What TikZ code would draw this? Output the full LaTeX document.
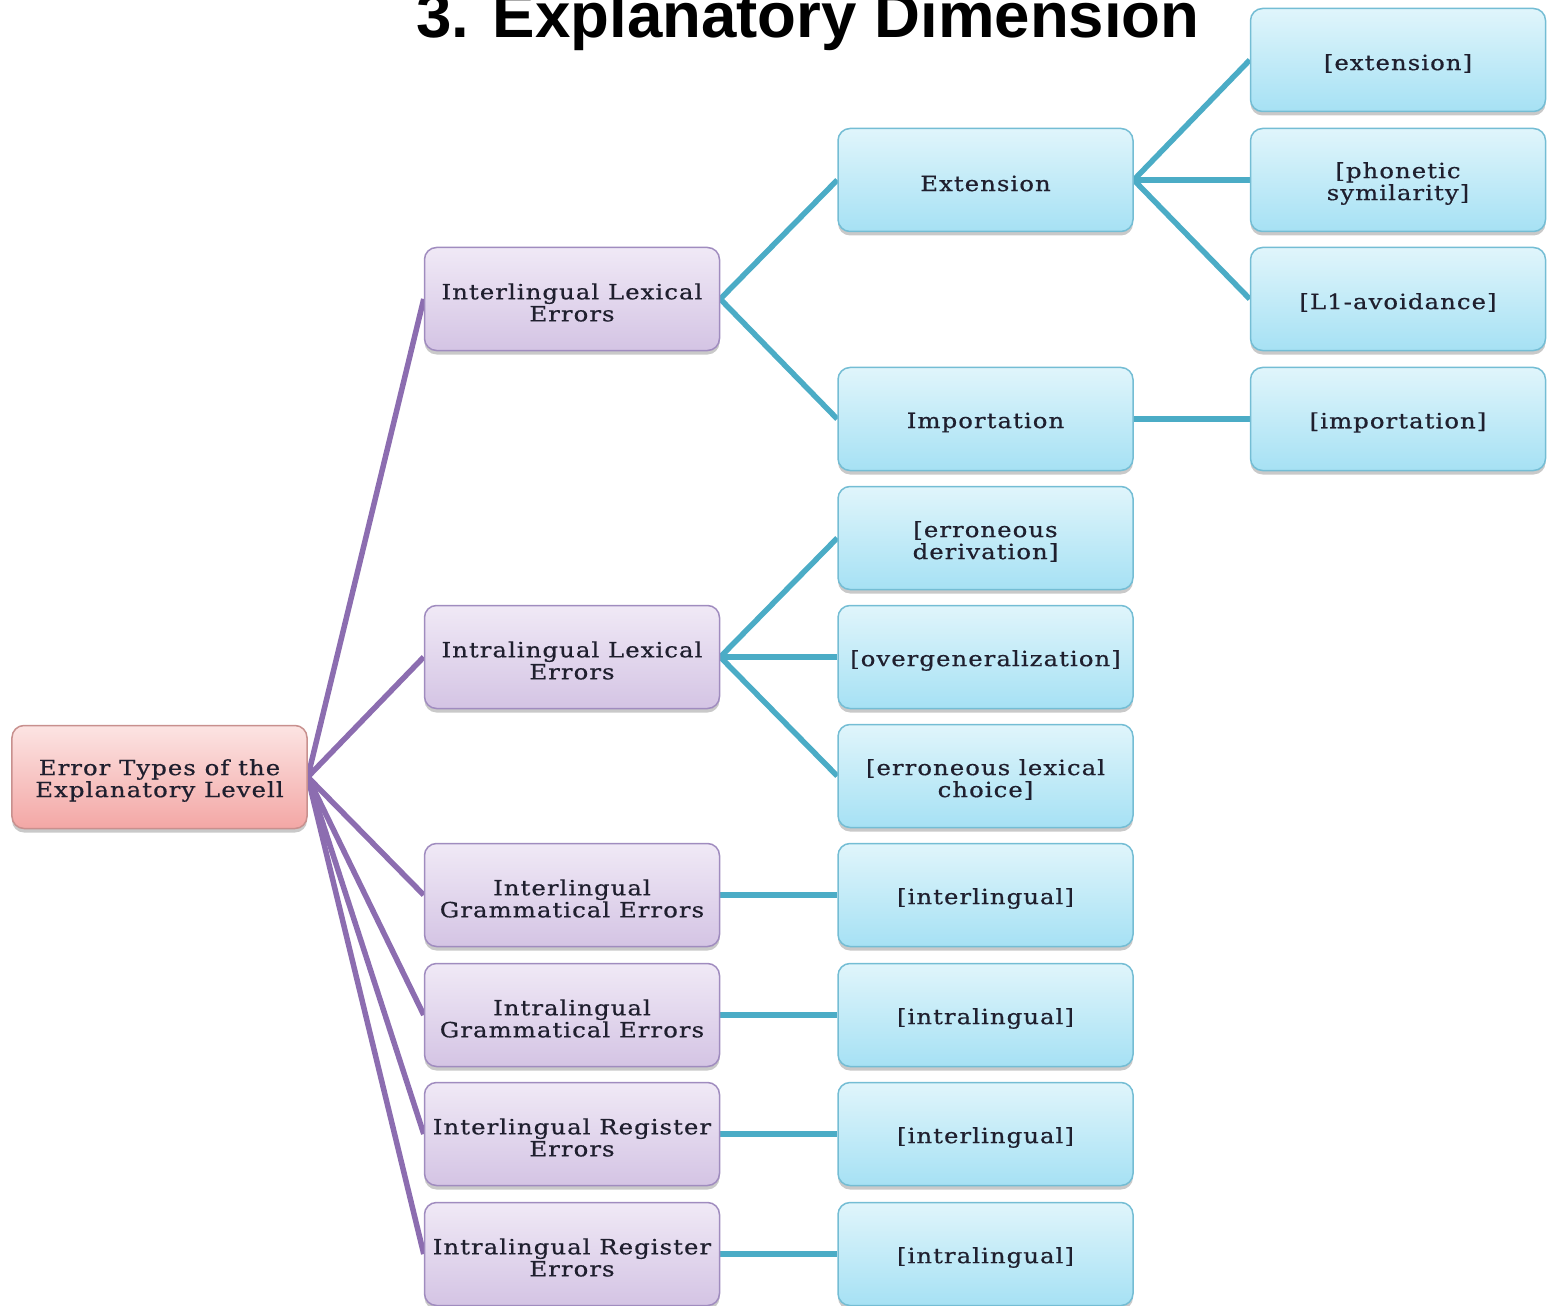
\documentclass[tikz,border=0pt]{standalone}
\usepackage{fontspec}
\setmainfont{DejaVu Serif}[FakeStretch=1.16,LetterSpace=5,FakeBold=0.6]
\newfontfamily\titlefont{Liberation Sans}
\usetikzlibrary{shadows,backgrounds}
\definecolor{purpleline}{HTML}{8C6DB0}
\definecolor{blueline}{HTML}{4BACC6}
\definecolor{ptop}{HTML}{F0E9F6}
\definecolor{pbot}{HTML}{D4C4E4}
\definecolor{pborder}{HTML}{A08CBF}
\definecolor{btop}{HTML}{E0F5FB}
\definecolor{bbot}{HTML}{A6E1F4}
\definecolor{bborder}{HTML}{74BDD4}
\definecolor{rtop}{HTML}{FCE4E3}
\definecolor{rbot}{HTML}{F3A7A5}
\definecolor{rborder}{HTML}{C8908E}
\definecolor{txt}{HTML}{1F1F2E}
\tikzset{
  box/.style={rounded corners=12bp, minimum width=295bp, minimum height=103bp,
    line width=1.5bp, inner sep=0pt,
    drop shadow={shadow xshift=0bp, shadow yshift=-4bp, opacity=0.3, fill=black!70}},
  lbl/.style={yshift=-3.5bp, align=center, text=txt, inner sep=0pt,
    font=\fontsize{21bp}{22bp}\selectfont},
  rootbox/.style={box, top color=rtop, bottom color=rbot, draw=rborder},
  pbox/.style={box, top color=ptop, bottom color=pbot, draw=pborder},
  bbox/.style={box, top color=btop, bottom color=bbot, draw=bborder},
  pline/.style={draw=purpleline, line width=5.5bp},
  bline/.style={draw=blueline, line width=5.5bp},
}
\begin{document}
\begin{tikzpicture}[x=1bp,y=-1bp]
\useasboundingbox (0,0) rectangle (1554,1306);
\node[anchor=base, font=\titlefont\bfseries\fontsize{63.6bp}{64bp}\selectfont] (title) at (808,38) {3. Explanatory Dimension};

\node[rootbox, label={[lbl]center:Error Types of the\\Explanatory Levell}] (root) at (159.5,777) {};

\node[pbox, label={[lbl]center:Interlingual Lexical\\Errors}] (ile) at (572,299) {};
\node[pbox, label={[lbl]center:Intralingual Lexical\\Errors}] (tle) at (572,657) {};
\node[pbox, label={[lbl]center:Interlingual\\Grammatical Errors}] (ige) at (572,895) {};
\node[pbox, label={[lbl]center:Intralingual\\Grammatical Errors}] (tge) at (572,1015) {};
\node[pbox, label={[lbl]center:Interlingual Register\\Errors}] (ire) at (572,1134) {};
\node[pbox, label={[lbl]center:Intralingual Register\\Errors}] (tre) at (572,1254) {};

\node[bbox, label={[lbl]center:Extension}] (ext) at (985.5,180) {};
\node[bbox, label={[lbl]center:Importation}] (imp) at (985.5,419) {};
\node[bbox, label={[lbl]center:[erroneous\\derivation]}] (der) at (985.5,538) {};
\node[bbox, label={[lbl]center:[overgeneralization]}] (ovg) at (985.5,657) {};
\node[bbox, label={[lbl]center:[erroneous lexical\\choice]}] (lch) at (985.5,776) {};
\node[bbox, label={[lbl]center:[interlingual]}] (inA) at (985.5,895) {};
\node[bbox, label={[lbl]center:[intralingual]}] (itA) at (985.5,1015) {};
\node[bbox, label={[lbl]center:[interlingual]}] (inB) at (985.5,1134) {};
\node[bbox, label={[lbl]center:[intralingual]}] (itB) at (985.5,1254) {};

\node[bbox, label={[lbl]center:[extension]}] (xext) at (1398,60) {};
\node[bbox, label={[lbl]center:[phonetic\\symilarity]}] (xpho) at (1398,180) {};
\node[bbox, label={[lbl]center:[L1-avoidance]}] (xl1) at (1398,299) {};
\node[bbox, label={[lbl]center:[importation]}] (ximp) at (1398,419) {};

\begin{scope}[on background layer]
\foreach \c in {ile,tle,ige,tge,ire,tre}
  \draw[pline] (root.east) -- (\c.west);
\draw[bline] (ile.east) -- (ext.west);
\draw[bline] (ile.east) -- (imp.west);
\draw[bline] (tle.east) -- (der.west);
\draw[bline] (tle.east) -- (ovg.west);
\draw[bline] (tle.east) -- (lch.west);
\draw[bline] (ige.east) -- (inA.west);
\draw[bline] (tge.east) -- (itA.west);
\draw[bline] (ire.east) -- (inB.west);
\draw[bline] (tre.east) -- (itB.west);
\draw[bline] (ext.east) -- (xext.west);
\draw[bline] (ext.east) -- (xpho.west);
\draw[bline] (ext.east) -- (xl1.west);
\draw[bline] (imp.east) -- (ximp.west);
\end{scope}
\end{tikzpicture}
\end{document}
